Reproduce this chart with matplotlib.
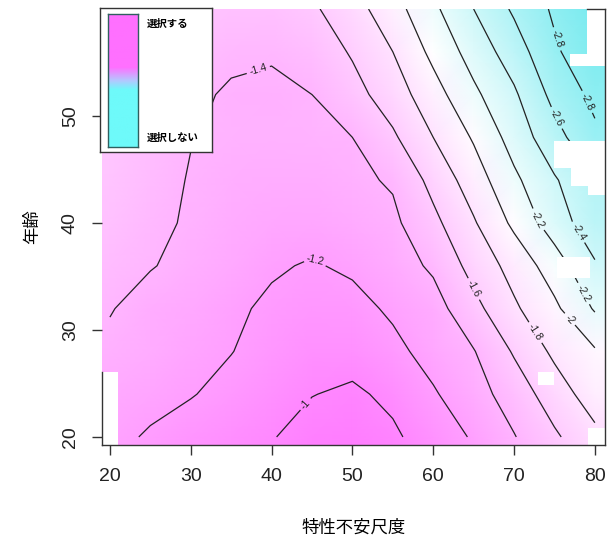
import numpy as np
import matplotlib.pyplot as plt
from matplotlib.colors import LinearSegmentedColormap
from matplotlib.patches import Rectangle

plt.rcParams['font.family'] = ['Liberation Sans', 'Noto Sans CJK JP', 'DejaVu Sans']

# grid
anxiety = [20, 25, 30, 35, 40, 45, 50, 55, 60, 65, 70, 75, 80]
age = [20, 24, 28, 32, 36, 40, 44, 48, 52, 56, 60]

# one row per age, one column per anxiety score
z_rows = [
    [-1.25, -1.18, -1.12, -1.06, -1.01, -0.93, -0.91, -0.97, -1.09, -1.22, -1.39, -1.57, -1.75],
    [-1.30, -1.255, -1.21, -1.145, -1.075, -1.005, -0.97, -1.04, -1.18, -1.32, -1.49, -1.70, -1.90],
    [-1.36, -1.32, -1.26, -1.205, -1.13, -1.08, -1.07, -1.15, -1.27, -1.39, -1.62, -1.84, -1.98],
    [-1.41, -1.33, -1.29, -1.23, -1.17, -1.13, -1.14, -1.23, -1.32, -1.54, -1.77, -1.96, -2.22],
    [-1.46, -1.41, -1.35, -1.29, -1.22, -1.185, -1.23, -1.31, -1.43, -1.67, -1.87, -2.10, -2.38],
    [-1.50, -1.44, -1.38, -1.32, -1.28, -1.27, -1.31, -1.36, -1.55, -1.78, -2.04, -2.30, -2.52],
    [-1.53, -1.46, -1.39, -1.35, -1.33, -1.33, -1.36, -1.42, -1.66, -1.90, -2.16, -2.38, -2.58],
    [-1.56, -1.48, -1.405, -1.38, -1.37, -1.38, -1.40, -1.57, -1.80, -2.02, -2.28, -2.53, -2.76],
    [-1.60, -1.53, -1.44, -1.375, -1.36, -1.40, -1.53, -1.70, -1.92, -2.16, -2.37, -2.66, -2.85],
    [-1.63, -1.56, -1.49, -1.44, -1.42, -1.48, -1.62, -1.80, -2.05, -2.28, -2.50, -2.77, -2.95],
    [-1.66, -1.60, -1.54, -1.50, -1.50, -1.57, -1.72, -1.92, -2.16, -2.40, -2.63, -2.83, -3.00],
]

levels = [-2.8, -2.6, -2.4, -2.2, -2.0, -1.8, -1.6, -1.4, -1.2, -1.0]

# cells with no data (x0, x1, y0, y1)
holes = [
    (18.9, 21.0, 19.0, 26.1),
    (79.0, 81.5, 55.8, 60.5),
    (76.9, 81.5, 54.7, 55.8),
    (75.0, 81.5, 45.1, 47.7),
    (77.1, 81.5, 43.5, 45.1),
    (79.1, 81.5, 42.6, 43.5),
    (75.3, 79.4, 34.9, 36.8),
    (73.0, 75.0, 24.9, 26.1),
    (79.1, 81.5, 19.0, 20.8),
]

label_pos = [(44.0, 23.2), (45.2, 36.3), (38.2, 54.7), (64.2, 33.5), (72.3, 29.6),
             (76.6, 30.8), (72.6, 40.2), (78.6, 33.4), (78.3, 39.3), (75.2, 49.8),
             (75.3, 57.2), (79.0, 51.3)]

z = np.array(z_rows)
xlo, xhi, ylo, yhi = 18.98, 81.25, 19.25, 60.0

fig = plt.figure(figsize=(6.14, 5.38), dpi=100)
ax = fig.add_axes([0.1656, 0.1729, 0.8197, 0.8104])

cmap = LinearSegmentedColormap.from_list(
    'sel', [(0.0, (0.47, 0.92, 0.94)), (0.452, (1, 1, 1)), (1.0, (1.0, 0.49, 1.0))])

# pad the edge cells out to the frame so the colour reaches it
xe = np.concatenate([[xlo], anxiety, [xhi + 0.3]])
ye = np.concatenate([[ylo], age, [yhi + 0.5]])
ze = np.pad(z, 1, mode='edge')
ax.pcolormesh(xe, ye, ze, shading='gouraud', cmap=cmap, vmin=-3.0, vmax=-0.9, zorder=1)

cs = ax.contour(anxiety, age, z, levels=levels, colors='#222222', linewidths=0.9,
                linestyles='solid', zorder=4)
ax.clabel(cs, fmt='%g', fontsize=7.5, inline=True, inline_spacing=3, manual=label_pos)

for x0, x1, y0, y1 in holes:
    ax.add_patch(Rectangle((x0, y0), x1 - x0, y1 - y0, facecolor='white',
                           edgecolor='none', zorder=5))

ax.set_xlim(xlo, xhi)
ax.set_ylim(ylo, yhi)
ax.set_xticks([20, 30, 40, 50, 60, 70, 80])
ax.set_yticks([20, 30, 40, 50])
ax.tick_params(axis='both', direction='out', length=7.5, width=1, color='#333333',
               labelsize=14, labelcolor='#222222')
ax.tick_params(axis='x', pad=9)
ax.tick_params(axis='y', pad=9)
for lab in ax.get_yticklabels():
    lab.set_rotation(90)
    lab.set_va('center')

for side in ax.spines:
    ax.spines[side].set_color('#333333')
    ax.spines[side].set_linewidth(1)
    ax.spines[side].set_zorder(6)
ax.spines['left'].set_bounds(ylo, 26.1)
ax.spines['top'].set_bounds(79.0, xhi)

ax.set_xlabel('特性不安尺度', family=['Noto Sans CJK JP'], fontsize=12.5, labelpad=24)
ax.set_ylabel('年齢', family=['Noto Sans CJK JP'], fontsize=12.5, labelpad=15)

# legend box
lb = fig.add_axes([0.1629, 0.7175, 0.1824, 0.2677], zorder=10)
lb.set_xticks([])
lb.set_yticks([])
lb.set_facecolor('white')
for s in lb.spines.values():
    s.set_color('#333333')
    s.set_linewidth(1)

lg = fig.add_axes([0.1759, 0.7268, 0.0489, 0.2472], zorder=11)
leg_cmap = LinearSegmentedColormap.from_list(
    'leg', [(0.0, '#6EFAFA'), (0.43, '#6EFAFA'), (0.5, '#B4C8FF'), (0.6, '#FF70FF'), (1.0, '#FF70FF')])
lg.imshow(np.linspace(0, 1, 200)[:, None], cmap=leg_cmap, aspect='auto', origin='lower')
lg.set_xticks([])
lg.set_yticks([])
for s in lg.spines.values():
    s.set_color('#2f5f5f')
    s.set_linewidth(1)

fig.text(147 / 614, 1 - 24 / 538, '選択する', family=['Noto Sans CJK JP'], fontsize=7.5,
         fontweight='bold', va='center', ha='left', zorder=12)
fig.text(147 / 614, 1 - 138 / 538, '選択しない', family=['Noto Sans CJK JP'], fontsize=7.5,
         fontweight='bold', va='center', ha='left', zorder=12)

fig.savefig('out.png', dpi=100)
